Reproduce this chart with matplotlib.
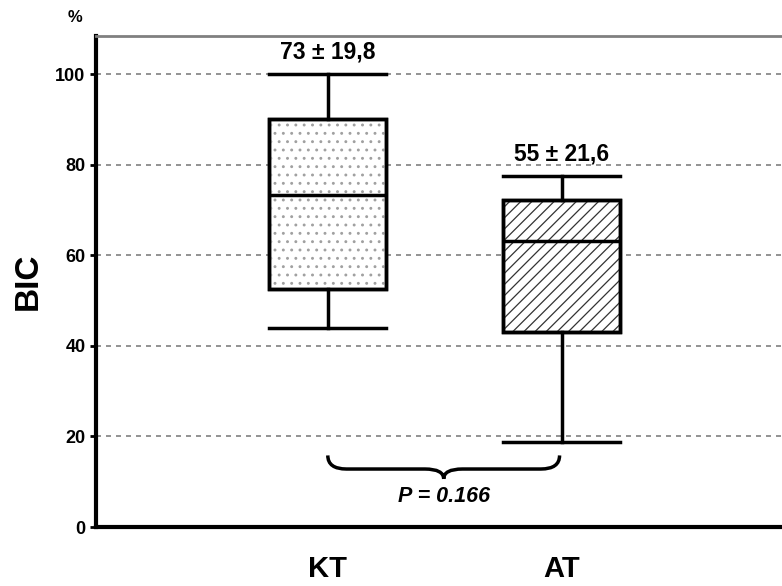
import matplotlib.pyplot as plt
import numpy as np
from matplotlib.path import Path
from matplotlib.patches import PathPatch

# Dados
grupos = ["KT", "AT"]
wlo = [44, 18.8]
q1 = [52.5, 43]
med = [73.2, 63.1]
q3 = [90, 72.2]
whi = [100, 77.5]
rotulos = ["73 ± 19,8", "55 ± 21,6"]
hachuras = ["..", "///"]
cor_hachura = ["#a0a0a0", "#333333"]
p_valor = "P = 0.166"

plt.rcParams["font.family"] = ["Liberation Sans", "DejaVu Sans"]
plt.rcParams["hatch.linewidth"] = 0.9

fig = plt.figure(figsize=(7.82, 5.86), dpi=100)
ax = fig.add_axes([96 / 782, 59 / 586, 1 - 96 / 782, (527 - 36) / 586])

stats = []
for i, g in enumerate(grupos):
    stats.append(dict(label=g, whislo=wlo[i], q1=q1[i], med=med[i],
                      q3=q3[i], whishi=whi[i], fliers=[]))

pos = [1, 2]
bp = ax.bxp(stats, positions=pos, widths=0.5, patch_artist=True,
            showfliers=False,
            boxprops=dict(linewidth=2.5, edgecolor="black", facecolor="white"),
            medianprops=dict(color="black", linewidth=2.5),
            whiskerprops=dict(color="black", linewidth=2.5),
            capprops=dict(color="black", linewidth=2.5),
            capwidths=0.5)
for caixa, h, c in zip(bp["boxes"], hachuras, cor_hachura):
    caixa.set_zorder(3)
    # textura por cima do fundo branco, contorno preto fica no topo
    ax.add_patch(PathPatch(caixa.get_path(), transform=caixa.get_transform(),
                           fill=False, hatch=h, edgecolor=c, lw=0, zorder=3.5))
    ax.add_patch(PathPatch(caixa.get_path(), transform=caixa.get_transform(),
                           fill=False, edgecolor="black", lw=2.5, zorder=4))
for linha in bp["medians"] + bp["whiskers"] + bp["caps"]:
    linha.set_zorder(4)

# Rótulos de média ± DP
for x, y, r in zip(pos, whi, rotulos):
    ax.text(x, y + 2.3, r, ha="center", va="bottom", fontsize=16.5, fontweight="bold")

# Chave entre os grupos
x0, x1 = pos[0], pos[1] - 0.01
xm = (x0 + x1) / 2
yt, yb, yp = 15.8, 12.8, 10.6
codes = [Path.MOVETO, Path.CURVE3, Path.CURVE3, Path.LINETO, Path.CURVE3, Path.CURVE3,
         Path.MOVETO, Path.CURVE3, Path.CURVE3, Path.LINETO, Path.CURVE3, Path.CURVE3]
verts = [(x0, yt), (x0, yb), (x0 + 0.08, yb), (xm - 0.08, yb), (xm, yb), (xm, yp),
         (x1, yt), (x1, yb), (x1 - 0.08, yb), (xm + 0.08, yb), (xm, yb), (xm, yp)]
ax.add_patch(PathPatch(Path(verts, codes), fill=False, lw=2.5, color="black", zorder=5))
ax.text(xm, 6.8, p_valor, ha="center", va="center", fontsize=15.5,
        fontweight="bold", style="italic")

ax.set_xlim(0.01, 2.94)
ax.set_ylim(0, 108.4)
ax.set_yticks([0, 20, 40, 60, 80, 100])
ax.yaxis.grid(True, linestyle=(0, (3, 3)), color="gray", linewidth=1.2)
ax.set_axisbelow(True)

ax.spines["left"].set_linewidth(3)
ax.spines["bottom"].set_linewidth(3)
ax.spines["right"].set_visible(False)
ax.spines["top"].set_color("gray")
ax.spines["top"].set_linewidth(2)

ax.tick_params(axis="y", labelsize=13, width=2, length=4, direction="out")
ax.tick_params(axis="x", length=0, labelsize=21, pad=20)
for t in ax.get_yticklabels() + ax.get_xticklabels():
    t.set_fontweight("bold")

ax.set_ylabel("BIC", fontsize=24, fontweight="bold", labelpad=8)
fig.text(75 / 782, 1 - 18 / 586, "%", ha="center", va="center", fontsize=12, fontweight="bold")

fig.savefig("out.png", dpi=100)
